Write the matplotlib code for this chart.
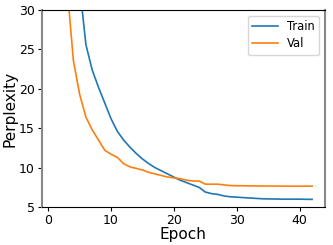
import matplotlib
matplotlib.use("Agg")
import matplotlib.pyplot as plt

epochs = list(range(1, 43))
train = [300, 130, 70, 45, 33, 25.6, 22.4, 20.2, 18.2, 16.2, 14.6, 13.5, 12.6, 11.8,
         11.1, 10.5, 10.0, 9.6, 9.2, 8.8, 8.4, 8.1, 7.8, 7.5, 6.9, 6.7, 6.6, 6.4,
         6.3, 6.25, 6.2, 6.15, 6.1, 6.05, 6.03, 6.02, 6.0, 6.0, 6.0, 6.0, 5.98, 5.97]
val = [80, 45, 33, 23.6, 19.3, 16.4, 14.8, 13.5, 12.2, 11.7, 11.3, 10.5, 10.1, 9.9,
       9.7, 9.4, 9.2, 9.0, 8.8, 8.7, 8.6, 8.4, 8.3, 8.3, 7.9, 7.9, 7.9, 7.8,
       7.72, 7.7, 7.7, 7.68, 7.68, 7.67, 7.67, 7.66, 7.66, 7.65, 7.65, 7.65, 7.65, 7.65]

fig = plt.figure(figsize=(3.33, 2.45), dpi=100)
ax = fig.add_axes([0.125, 0.155, 0.851, 0.804])
ax.plot(epochs, train, color="#1f77b4", lw=1.2, label="Train")
ax.plot(epochs, val, color="#ff7f0e", lw=1.2, label="Val")
ax.set_ylim(5, 30)
ax.set_xlim(-1.05, 44.05)
ax.set_xticks([0, 10, 20, 30, 40])
ax.set_yticks([5, 10, 15, 20, 25, 30])
ax.tick_params(labelsize=9, length=3, pad=2)
ax.set_xlabel("Epoch", fontsize=11, labelpad=0)
ax.set_ylabel("Perplexity", fontsize=11, labelpad=1)
for s in ["left", "right"]:
    ax.spines[s].set_color("#888888")
    ax.spines[s].set_linewidth(1.5)
ax.legend(loc="upper right", fontsize=8.3, handlelength=2.2, labelspacing=0.35)
fig.savefig("out.png", dpi=100)
